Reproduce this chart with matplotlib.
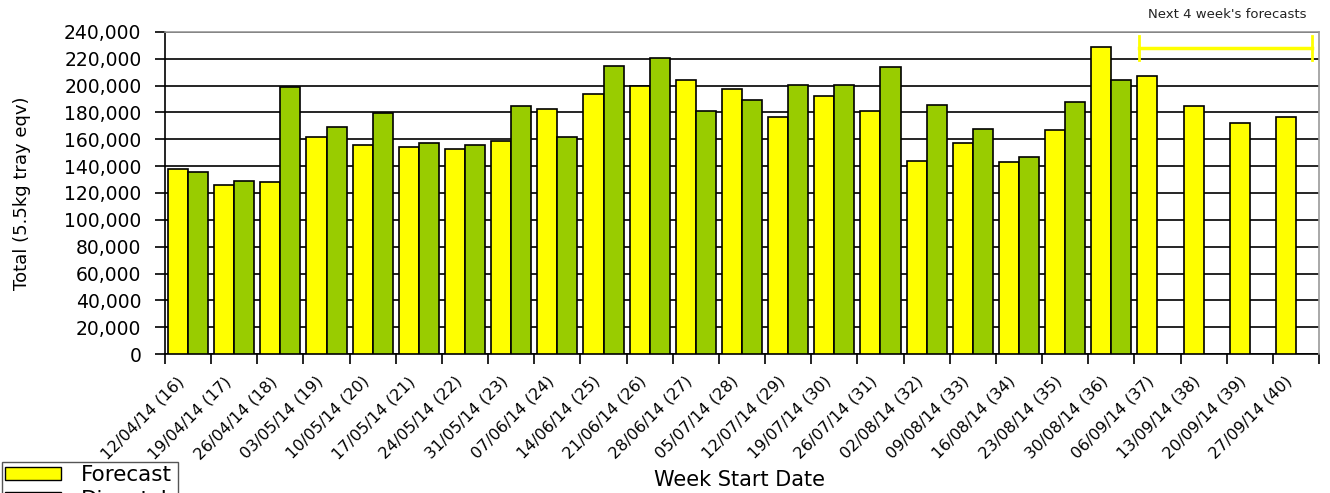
import numpy as np
import matplotlib
matplotlib.use("Agg")
import matplotlib.pyplot as plt
import matplotlib.patches as mpatches
from matplotlib.ticker import FuncFormatter
from matplotlib.transforms import ScaledTranslation

plt.rcParams['font.family'] = ['DejaVu Sans']

weeks = ["12/04/14 (16)", "19/04/14 (17)", "26/04/14 (18)", "03/05/14 (19)",
         "10/05/14 (20)", "17/05/14 (21)", "24/05/14 (22)", "31/05/14 (23)",
         "07/06/14 (24)", "14/06/14 (25)", "21/06/14 (26)", "28/06/14 (27)",
         "05/07/14 (28)", "12/07/14 (29)", "19/07/14 (30)", "26/07/14 (31)",
         "02/08/14 (32)", "09/08/14 (33)", "16/08/14 (34)", "23/08/14 (35)",
         "30/08/14 (36)", "06/09/14 (37)", "13/09/14 (38)", "20/09/14 (39)",
         "27/09/14 (40)"]

forecast = [138000, 126000, 128000, 162000, 156000, 154000, 153000, 158500,
            182500, 194000, 199500, 204000, 197500, 177000, 192000, 181000,
            144000, 157500, 143000, 167000, 229000, 207000, 184500, 172500,
            177000]

dispatch = [136000, 129000, 199000, 169000, 179500, 157000, 156000, 184500,
            161500, 215000, 220500, 181000, 189000, 200500, 200500, 214000,
            185500, 168000, 146500, 187500, 204000]

n_forecast_weeks = 4

yellow = "#ffff00"
green = "#99cc00"

fig = plt.figure(figsize=(13.3, 4.93), dpi=100)
ax = fig.add_axes([165/1330, 1-354/493, (1319-165)/1330, (354-32)/493])

x = np.arange(len(weeks))
w = 0.435
ax.bar(x - w/2, forecast, w, color=yellow, edgecolor="black", linewidth=1.2, zorder=3)
ax.bar(x[:len(dispatch)] + w/2, dispatch, w, color=green, edgecolor="black", linewidth=1.2, zorder=3)

ax.set_xlim(-0.5, len(weeks) - 0.5)
ax.set_ylim(0, 240000)
ax.set_yticks(np.arange(0, 240001, 20000))
ax.yaxis.set_major_formatter(FuncFormatter(lambda v, p: "{:,.0f}".format(v)))
ax.tick_params(axis="y", length=7, width=1.2, pad=10, labelsize=13.5, colors="black")
ax.grid(axis="y", color="black", linewidth=1.2, zorder=1)

ax.set_xticks(x)
ax.set_xticks(np.arange(-0.5, len(weeks), 1), minor=True)
ax.set_xticklabels(weeks, rotation=45, ha="right", va="center",
                   rotation_mode="anchor", fontsize=11.5)
ax.tick_params(axis="x", which="major", length=0, pad=18)
ax.tick_params(axis="x", which="minor", length=7, width=1.2)
shift = ScaledTranslation(-6/100, 0, fig.dpi_scale_trans)
for lab in ax.get_xticklabels():
    lab.set_transform(lab.get_transform() + shift)

for s in ["left", "bottom"]:
    ax.spines[s].set_linewidth(1.2)
for s in ["top", "right"]:
    ax.spines[s].set_color("#999999")
    ax.spines[s].set_linewidth(1.2)
    ax.spines[s].set_zorder(4)

# next 4 weeks bracket
x0 = len(weeks) - n_forecast_weeks - 0.4
x1 = len(weeks) - 0.65
ax.plot([x0, x1], [228000, 228000], color=yellow, linewidth=2.5, zorder=5, clip_on=False)
ax.plot([x0, x0], [219000, 237000], color=yellow, linewidth=2, zorder=5, clip_on=False)
ax.plot([x1, x1], [219000, 237000], color=yellow, linewidth=2, zorder=5, clip_on=False)
fig.text(1227/1330, 1-15/493, "Next 4 week's forecasts", fontsize=9.5,
         ha="center", va="center", color="#222222")

fig.text(22/1330, 1-193/493, "Total (5.5kg tray eqv)", rotation=90,
         fontsize=13, ha="center", va="center")
fig.text(740/1330, 1-480/493, "Week Start Date", fontsize=15, ha="center", va="center")

f_patch = mpatches.Patch(facecolor=yellow, edgecolor="black", label="Forecast")
d_patch = mpatches.Patch(facecolor=green, edgecolor="black", label="Dispatch")
leg = fig.legend(handles=[f_patch, d_patch], loc="upper left",
                 bbox_to_anchor=(2/1330, 1-462/493), borderaxespad=0, fontsize=15.5,
                 handlelength=2.6, handleheight=0.5, labelspacing=0.2,
                 borderpad=0.15, handletextpad=0.9, fancybox=False,
                 edgecolor="#555555", framealpha=1)
leg.get_frame().set_linewidth(1.0)

fig.savefig("out.png", dpi=100)
